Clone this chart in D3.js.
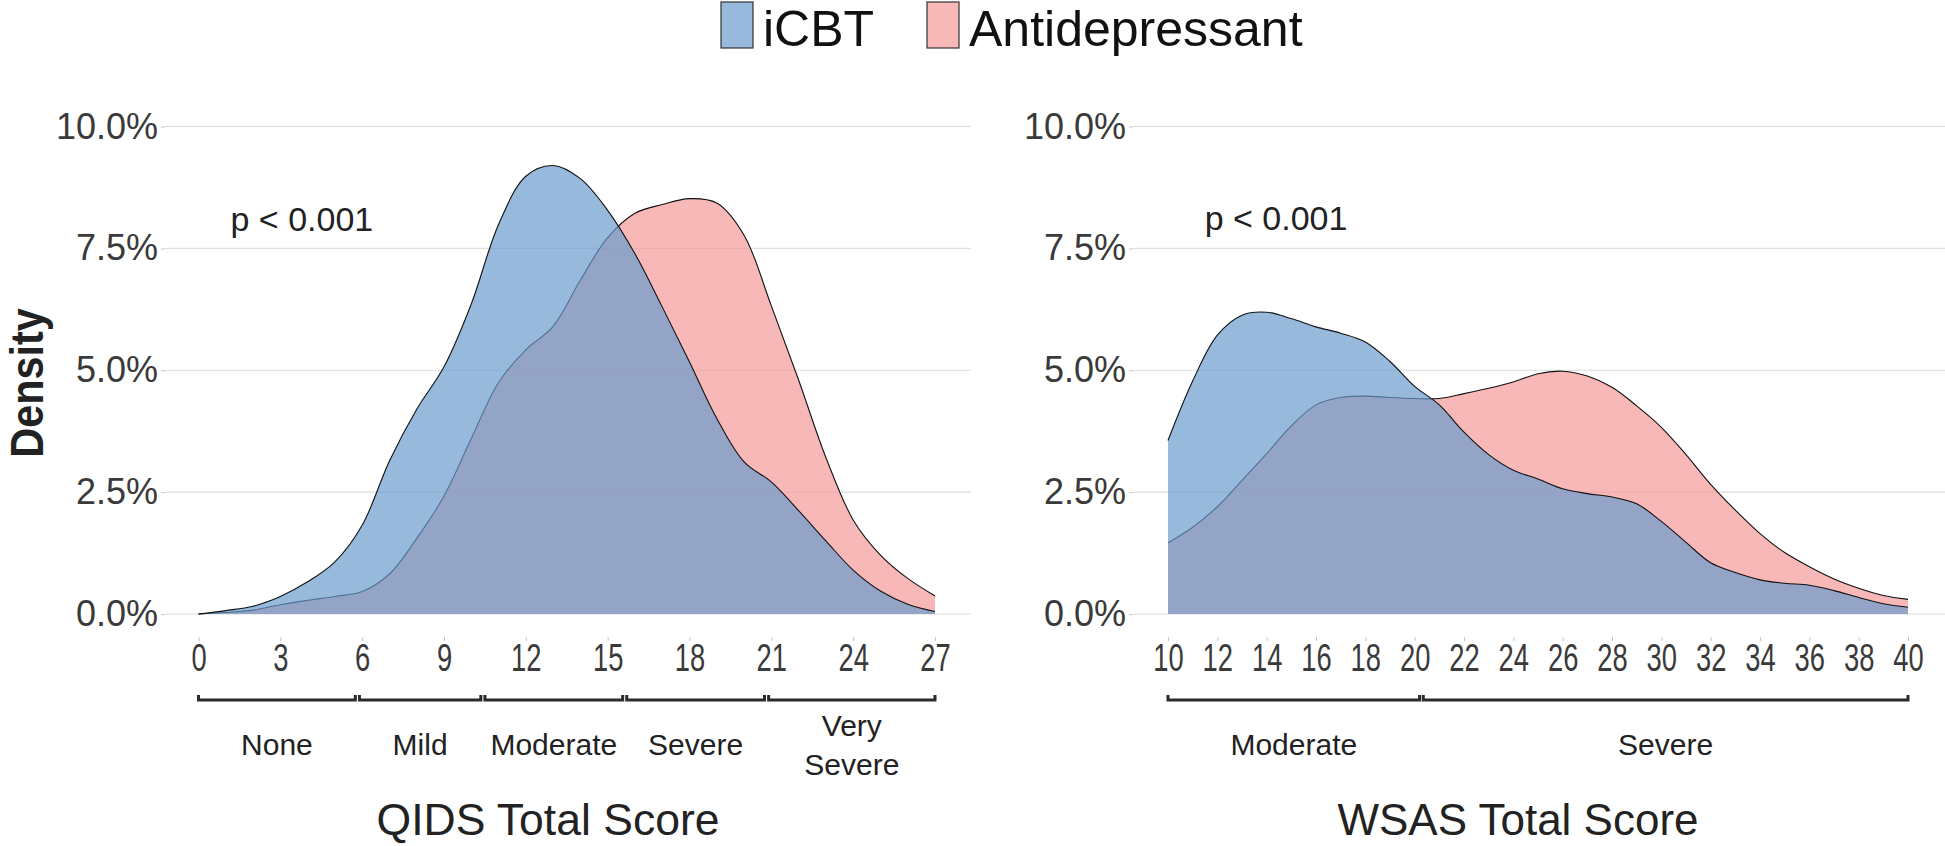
<!DOCTYPE html>
<html>
<head>
<meta charset="utf-8">
<script src="https://cdn.jsdelivr.net/npm/d3@7"></script>
<style>
  html, body { margin: 0; padding: 0; background: #fff; }
  svg { display: block; font-family: "Liberation Sans", Arial, Helvetica, sans-serif; }
</style>
</head>
<body>
<svg id="chart" width="1945" height="846"></svg>
<script>
// ---------------- DATA ----------------
const groups = ["iCBT", "Antidepressant"];

const qidsScores = [0,1,2,3,4,5,6,7,8,9,10,11,12,13,14,15,16,17,18,19,20,21,22,23,24,25,26,27];
const qidsICBT = [0,0.07,0.16,0.36,0.66,1.07,1.82,3.14,4.20,5.07,6.36,7.99,8.98,9.20,8.93,8.28,7.39,6.30,5.17,4.01,3.12,2.71,2.12,1.50,0.90,0.47,0.20,0.05];
const qidsAntidep = [0,0.03,0.08,0.19,0.28,0.36,0.46,0.82,1.55,2.42,3.60,4.75,5.42,5.90,6.85,7.72,8.22,8.40,8.52,8.43,7.77,6.32,4.80,3.21,1.93,1.21,0.73,0.37];

const wsasScores = [10,11,12,13,14,15,16,17,18,19,20,21,22,23,24,25,26,27,28,29,30,31,32,33,34,35,36,37,38,39,40];
const wsasICBT = [3.56,4.78,5.72,6.13,6.19,6.06,5.89,5.76,5.58,5.18,4.67,4.29,3.73,3.27,2.95,2.77,2.57,2.47,2.40,2.26,1.90,1.47,1.05,0.85,0.70,0.63,0.59,0.48,0.34,0.21,0.14];
const wsasAntidep = [1.46,1.78,2.20,2.74,3.29,3.86,4.29,4.44,4.47,4.44,4.42,4.42,4.52,4.63,4.76,4.93,4.98,4.88,4.65,4.27,3.83,3.27,2.66,2.13,1.65,1.26,0.97,0.72,0.53,0.38,0.30];

const yTicks = [0, 2.5, 5, 7.5, 10];
const qidsTicks = [0,3,6,9,12,15,18,21,24,27];
const wsasTicks = [10,12,14,16,18,20,22,24,26,28,30,32,34,36,38,40];

const qidsCategories = ["None","Mild","Moderate","Severe","Very Severe"];
const qidsCatStart = [0, 5.9, 10.5, 15.7, 20.9];
const qidsCatEnd = [5.75, 10.35, 15.55, 20.75, 27];

const wsasCategories = ["Moderate","Severe"];
const wsasCatStart = [10, 20.35];
const wsasCatEnd = [20.2, 40];

const pLabel = "p < 0.001";
const yTitle = "Density";
const qidsTitle = "QIDS Total Score";
const wsasTitle = "WSAS Total Score";

// ---------------- STYLE ----------------
const colors = { "iCBT": "#6A9BCD", "Antidepressant": "#F59A9A" };
const fillOpacity = 0.7;
const textDark = "#222";
const tickText = "#3a3a3a";

const svg = d3.select("#chart");

const y = d3.scaleLinear().domain([0, 10]).range([614, 126.5]);
const curve = d3.curveCatmullRom.alpha(0.5);

function drawPanel(cfg) {
  const g = svg.append("g");
  const x = cfg.x;
  // grid
  g.append("g").selectAll("line").data(yTicks).join("line")
    .attr("x1", cfg.panelLeft).attr("x2", cfg.panelRight)
    .attr("y1", d => y(d)).attr("y2", d => y(d))
    .attr("stroke", "#dddddd").attr("stroke-width", 1.2);

  // y axis
  const ya = g.append("g").attr("transform", `translate(${cfg.panelLeft},0)`)
    .call(d3.axisLeft(y).tickValues(yTicks).tickFormat(d => d.toFixed(1) + "%").tickSize(4).tickPadding(3));
  ya.select(".domain").remove();
  ya.selectAll(".tick line").attr("stroke", "#c8c8c8");
  ya.selectAll(".tick text").attr("font-size", 36).attr("fill", tickText)
    .attr("font-family", "'Liberation Sans', Arial, sans-serif");

  // x axis
  const xa = g.append("g").attr("transform", `translate(0,637)`)
    .call(d3.axisBottom(x).tickValues(cfg.ticks).tickSize(4).tickPadding(3));
  xa.select(".domain").remove();
  xa.selectAll(".tick line").attr("stroke", "#c8c8c8");
  xa.selectAll(".tick text").attr("font-size", 38).attr("fill", tickText)
    .attr("font-family", "'Liberation Sans', Arial, sans-serif")
    .attr("transform", "scale(0.72,1)");

  // densities
  const area = d3.area().x(d => x(d[0])).y0(y(0)).y1(d => y(d[1])).curve(curve);
  const line = d3.line().x(d => x(d[0])).y(d => y(d[1])).curve(curve);
  const ad = cfg.scores.map((s, i) => [s, cfg.antidep[i]]);
  const cb = cfg.scores.map((s, i) => [s, cfg.icbt[i]]);
  g.append("path").datum(ad).attr("d", area).attr("fill", colors["Antidepressant"]).attr("fill-opacity", fillOpacity);
  g.append("path").datum(ad).attr("d", line).attr("fill", "none").attr("stroke", "#111").attr("stroke-width", 1.1);
  g.append("path").datum(cb).attr("d", area).attr("fill", colors["iCBT"]).attr("fill-opacity", fillOpacity);
  g.append("path").datum(cb).attr("d", line).attr("fill", "none").attr("stroke", "#111").attr("stroke-width", 1.1);

  // p label
  g.append("text").attr("x", x(cfg.pX)).attr("y", y(cfg.pY))
    .attr("text-anchor", "middle").attr("font-size", 34).attr("fill", textDark).text(pLabel);

  // brackets
  const by = 700;
  cfg.cats.forEach((c, i) => {
    const x0 = x(cfg.catStart[i]), x1 = x(cfg.catEnd[i]);
    g.append("path").attr("d", `M${x0},${by - 5}V${by}H${x1}V${by - 5}`)
      .attr("fill", "none").attr("stroke", "#2b2b2b").attr("stroke-width", 3);
    const cx = x((cfg.catStart[i] + cfg.catEnd[i]) / 2);
    const words = c === "Very Severe" ? ["Very", "Severe"] : [c];
    const t = g.append("text").attr("text-anchor", "middle").attr("font-size", 30).attr("fill", textDark);
    if (words.length === 1) {
      t.append("tspan").attr("x", cx).attr("y", 755).text(words[0]);
    } else {
      t.append("tspan").attr("x", cx).attr("y", 736).text(words[0]);
      t.append("tspan").attr("x", cx).attr("y", 775).text(words[1]);
    }
  });

  // x title
  g.append("text").attr("x", cfg.titleX).attr("y", 835).attr("text-anchor", "middle")
    .attr("font-size", cfg.titleSize).attr("fill", textDark).text(cfg.title);
}

drawPanel({
  x: d3.scaleLinear().domain([0, 27]).range([198.5, 935]),
  panelLeft: 165, panelRight: 971,
  ticks: qidsTicks, scores: qidsScores, icbt: qidsICBT, antidep: qidsAntidep,
  pX: 3.79, pY: 7.86,
  cats: qidsCategories, catStart: qidsCatStart, catEnd: qidsCatEnd,
  title: qidsTitle, titleX: 548, titleSize: 44.5
});

drawPanel({
  x: d3.scaleLinear().domain([10, 40]).range([1168, 1908]),
  panelLeft: 1133, panelRight: 1945,
  ticks: wsasTicks, scores: wsasScores, icbt: wsasICBT, antidep: wsasAntidep,
  pX: 14.38, pY: 7.88,
  cats: wsasCategories, catStart: wsasCatStart, catEnd: wsasCatEnd,
  title: wsasTitle, titleX: 1518, titleSize: 44
});

// y title
svg.append("text").attr("transform", "translate(43,383) rotate(-90) scale(0.88,1)")
  .attr("text-anchor", "middle").attr("font-size", 47).attr("font-weight", "bold")
  .attr("fill", textDark).text(yTitle);

// legend
const legendX = [721, 927];
const legendTextX = [763, 969];
groups.forEach((gname, i) => {
  svg.append("rect").attr("x", legendX[i]).attr("y", 2).attr("width", 32).attr("height", 46)
    .attr("fill", colors[gname]).attr("fill-opacity", fillOpacity)
    .attr("stroke", "#333").attr("stroke-width", 1.2);
  svg.append("text").attr("x", legendTextX[i]).attr("y", 46).attr("font-size", 50)
    .attr("fill", "#111").text(gname);
});
</script>
</body>
</html>
